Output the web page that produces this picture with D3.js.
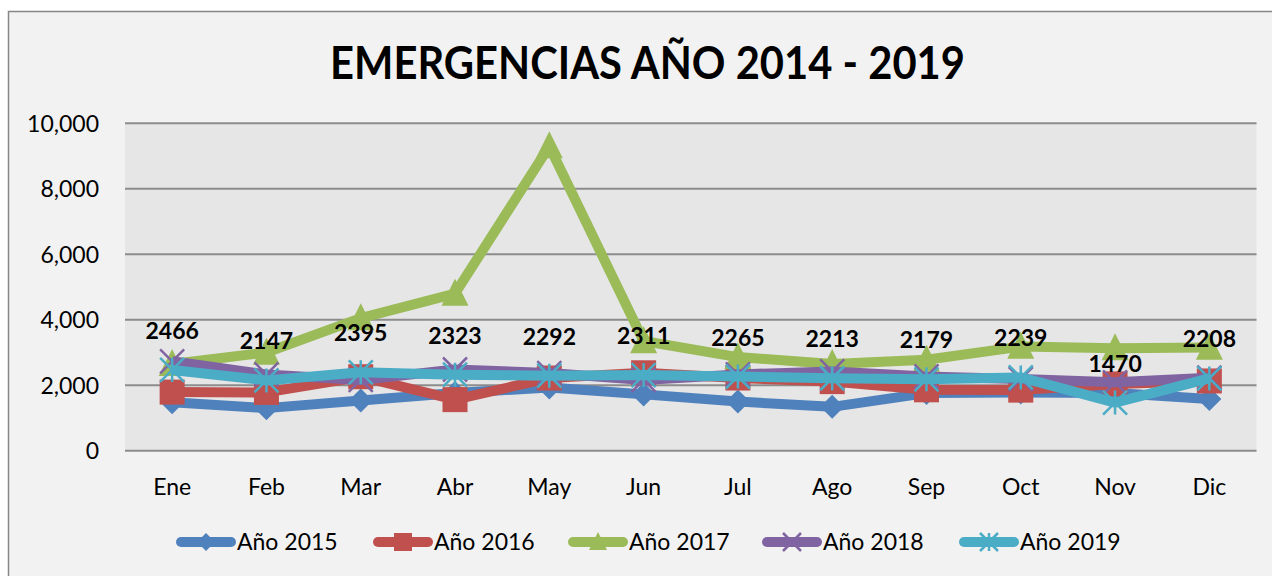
<!DOCTYPE html>
<meta charset="utf-8">
<style>
body { margin: 0; background: #fff; }
text { font-family: Lato, "Open Sans", sans-serif; fill: #000; }
</style>
<svg width="1272" height="576"></svg>
<script src="https://d3js.org/d3.v7.min.js"></script>
<script>

var months = ["Ene", "Feb", "Mar", "Abr", "May", "Jun", "Jul", "Ago", "Sep", "Oct", "Nov", "Dic"];
var yTicks = [0, 2000, 4000, 6000, 8000, 10000];

var y2015 = [1480, 1300, 1530, 1760, 1930, 1720, 1500, 1340, 1760, 1780, 1760, 1580];
var y2016 = [1790, 1780, 2260, 1560, 2220, 2380, 2220, 2110, 1860, 1850, 2040, 2130];
var y2017 = [2650, 3000, 4050, 4800, 9300, 3350, 2860, 2650, 2780, 3180, 3130, 3150];
var y2018 = [2730, 2330, 2160, 2480, 2370, 2160, 2330, 2420, 2270, 2190, 2090, 2230];
var y2019 = [2466, 2147, 2395, 2323, 2292, 2311, 2265, 2213, 2179, 2239, 1470, 2208];

var series = [
  { name: "Año 2015", values: y2015, color: "#4F81BD", marker: "diamond" },
  { name: "Año 2016", values: y2016, color: "#C0504D", marker: "square" },
  { name: "Año 2017", values: y2017, color: "#9BBB59", marker: "triangle" },
  { name: "Año 2018", values: y2018, color: "#8064A2", marker: "x" },
  { name: "Año 2019", values: y2019, color: "#4BACC6", marker: "star" }
];

var svg = d3.select("svg");

// chart frame
svg.append("rect")
  .attr("x", 8.5).attr("y", 11.5)
  .attr("width", 1300).attr("height", 600)
  .attr("fill", "#f2f2f2")
  .attr("stroke", "#868686")
  .attr("stroke-width", 1.5);

var plot = { left: 125, right: 1256.5, top: 123.3, bottom: 450.7 };

var x = d3.scaleBand().domain(months).range([plot.left, plot.right]);
var y = d3.scaleLinear().domain([0, 10000]).range([plot.bottom, plot.top]);

svg.append("rect")
  .attr("x", plot.left).attr("y", plot.top)
  .attr("width", plot.right - plot.left).attr("height", plot.bottom - plot.top)
  .attr("fill", "#e6e6e6");

svg.append("g")
  .selectAll("line")
  .data(yTicks)
  .join("line")
  .attr("x1", plot.left).attr("x2", plot.right)
  .attr("y1", function(d) { return y(d); })
  .attr("y2", function(d) { return y(d); })
  .attr("stroke", "#8c8c8c")
  .attr("stroke-width", 2);

// axes
var yAxis = svg.append("g")
  .attr("transform", "translate(" + (plot.left - 26) + ",0)")
  .call(d3.axisLeft(y).tickValues(yTicks).tickSize(0).tickFormat(d3.format(",")));
yAxis.select(".domain").remove();
yAxis.selectAll("text").attr("x", 0).attr("dy", "0.35em").style("font-size", "23px").style("font-family", "Lato");

var xAxis = svg.append("g")
  .attr("transform", "translate(0," + plot.bottom + ")")
  .call(d3.axisBottom(x).tickSize(0));
xAxis.select(".domain").remove();
xAxis.selectAll("text").attr("y", 36).attr("dy", "0.35em").style("font-size", "23px").style("font-family", "Lato");

// title
svg.append("text")
  .attr("x", 647.5).attr("y", 79)
  .attr("text-anchor", "middle")
  .attr("font-size", 46)
  .attr("font-weight", "bold")
  .attr("textLength", 635)
  .attr("lengthAdjust", "spacingAndGlyphs")
  .text("EMERGENCIAS AÑO 2014 - 2019");

function drawMarker(g, type, color, s) {
  var h = s / 2;
  if (type === "diamond") {
    g.append("path").attr("d", "M0," + (-h) + "L" + h + ",0L0," + h + "L" + (-h) + ",0Z").attr("fill", color);
  } else if (type === "square") {
    g.append("rect").attr("x", -h).attr("y", -h).attr("width", s).attr("height", s).attr("fill", color);
  } else if (type === "triangle") {
    g.append("path").attr("d", "M0," + (-h * 1.1) + "L" + h + "," + (h * 0.9) + "L" + (-h) + "," + (h * 0.9) + "Z").attr("fill", color);
  } else if (type === "x") {
    g.append("path").attr("d", "M" + (-h) + "," + (-h) + "L" + h + "," + h + "M" + h + "," + (-h) + "L" + (-h) + "," + h)
      .attr("stroke", color).attr("stroke-width", 2.5);
  } else if (type === "star") {
    g.append("path").attr("d", "M" + (-h) + "," + (-h) + "L" + h + "," + h + "M" + h + "," + (-h) + "L" + (-h) + "," + h + "M0," + (-h) + "L0," + h)
      .attr("stroke", color).attr("stroke-width", 2.5);
  }
}

var markerSize = { diamond: 24, square: 25, triangle: 27, x: 24, star: 24 };

var line = d3.line()
  .x(function(d, i) { return x(months[i]) + x.bandwidth() / 2; })
  .y(function(d) { return y(d); });

series.forEach(function(s) {
  var g = svg.append("g");
  g.append("path")
    .datum(s.values)
    .attr("d", line)
    .attr("fill", "none")
    .attr("stroke", s.color)
    .attr("stroke-width", 10)
    .attr("stroke-linejoin", "round");
  s.values.forEach(function(v, i) {
    var m = g.append("g")
      .attr("transform", "translate(" + (x(months[i]) + x.bandwidth() / 2) + "," + y(v) + ")");
    drawMarker(m, s.marker, s.color, markerSize[s.marker]);
  });
});

// data labels for 2019
svg.append("g")
  .selectAll("text")
  .data(y2019)
  .join("text")
  .attr("x", function(d, i) { return x(months[i]) + x.bandwidth() / 2; })
  .attr("y", function(d) { return y(d) - 39; })
  .attr("dy", "0.35em")
  .attr("text-anchor", "middle")
  .attr("font-size", 23)
  .attr("font-weight", "bold")
  .text(function(d) { return d; });

// legend
var legendX = [176, 373, 568, 762, 959];
var legend = svg.append("g");
series.forEach(function(s, i) {
  var lg = legend.append("g").attr("transform", "translate(" + legendX[i] + ",542)");
  lg.append("line")
    .attr("x1", 5).attr("x2", 55)
    .attr("stroke", s.color)
    .attr("stroke-width", 10)
    .attr("stroke-linecap", "round");
  var mk = lg.append("g").attr("transform", "translate(30,0)");
  drawMarker(mk, s.marker, s.color, 18);
  lg.append("text")
    .attr("x", 61)
    .attr("dy", "0.35em")
    .attr("font-size", 23)
    .text(s.name);
});

</script>
